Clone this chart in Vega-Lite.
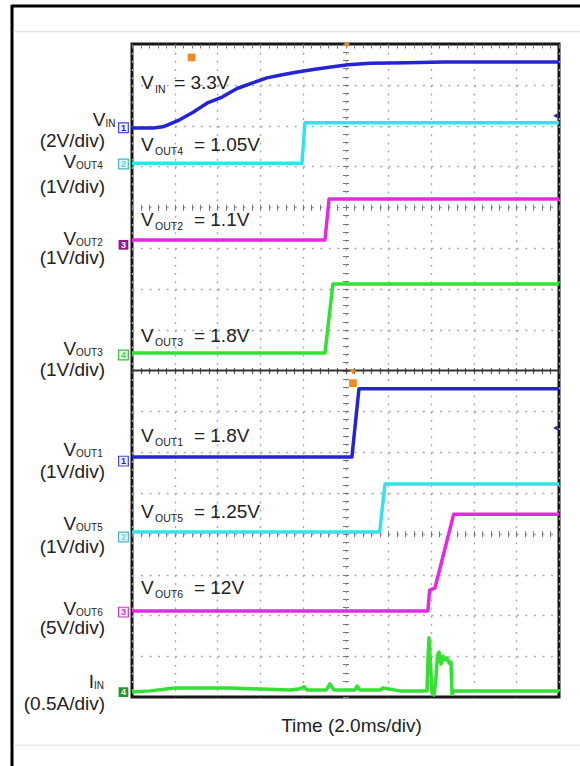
{
  "$schema": "https://vega.github.io/schema/vega-lite/v6.json",
  "width": 427,
  "height": 653,
  "autosize": "none",
  "padding": {"left": 132, "top": 44, "right": 21, "bottom": 69},
  "background": "white",
  "config": {
    "view": {"stroke": "#161616", "strokeWidth": 3},
    "font": "Liberation Sans",
    "text": {"font": "Liberation Sans"}
  },
  "datasets": {
    "traces": [
      {"tr": "VIN", "t": 0, "v": 13.94}, {"tr": "VIN", "t": 1.0, "v": 13.94}, {"tr": "VIN", "t": 1.45, "v": 13.97},
      {"tr": "VIN", "t": 2.15, "v": 14.12}, {"tr": "VIN", "t": 2.86, "v": 14.33}, {"tr": "VIN", "t": 3.51, "v": 14.55},
      {"tr": "VIN", "t": 4.22, "v": 14.7}, {"tr": "VIN", "t": 4.92, "v": 14.91}, {"tr": "VIN", "t": 5.62, "v": 15.04},
      {"tr": "VIN", "t": 6.32, "v": 15.17}, {"tr": "VIN", "t": 6.98, "v": 15.24}, {"tr": "VIN", "t": 7.68, "v": 15.31},
      {"tr": "VIN", "t": 8.57, "v": 15.38}, {"tr": "VIN", "t": 9.41, "v": 15.44}, {"tr": "VIN", "t": 10.12, "v": 15.49},
      {"tr": "VIN", "t": 11.15, "v": 15.53}, {"tr": "VIN", "t": 12.88, "v": 15.54}, {"tr": "VIN", "t": 14.61, "v": 15.56},
      {"tr": "VIN", "t": 17.0, "v": 15.56}, {"tr": "VIN", "t": 20, "v": 15.56},
      {"tr": "VOUT4", "t": 0, "v": 13.08}, {"tr": "VOUT4", "t": 7.96, "v": 13.08}, {"tr": "VOUT4", "t": 8.1, "v": 14.07}, {"tr": "VOUT4", "t": 20, "v": 14.07},
      {"tr": "VOUT2", "t": 0, "v": 11.2}, {"tr": "VOUT2", "t": 9.04, "v": 11.2}, {"tr": "VOUT2", "t": 9.23, "v": 12.2}, {"tr": "VOUT2", "t": 20, "v": 12.2},
      {"tr": "VOUT3", "t": 0, "v": 8.43}, {"tr": "VOUT3", "t": 9.04, "v": 8.43}, {"tr": "VOUT3", "t": 9.41, "v": 10.12}, {"tr": "VOUT3", "t": 20, "v": 10.12},
      {"tr": "VOUT1", "t": 0, "v": 5.88}, {"tr": "VOUT1", "t": 10.3, "v": 5.88}, {"tr": "VOUT1", "t": 10.63, "v": 7.55}, {"tr": "VOUT1", "t": 20, "v": 7.55},
      {"tr": "VOUT5", "t": 0, "v": 4.04}, {"tr": "VOUT5", "t": 11.6, "v": 4.04}, {"tr": "VOUT5", "t": 11.85, "v": 5.22}, {"tr": "VOUT5", "t": 20, "v": 5.22},
      {"tr": "VOUT6", "t": 0, "v": 2.11}, {"tr": "VOUT6", "t": 13.86, "v": 2.11}, {"tr": "VOUT6", "t": 13.94, "v": 2.62},
      {"tr": "VOUT6", "t": 14.19, "v": 2.67}, {"tr": "VOUT6", "t": 15.07, "v": 4.48}, {"tr": "VOUT6", "t": 20, "v": 4.48},
      {"tr": "IIN", "t": 0, "v": 0.12}, {"tr": "IIN", "t": 0.84, "v": 0.15}, {"tr": "IIN", "t": 2.01, "v": 0.22},
      {"tr": "IIN", "t": 4.59, "v": 0.22}, {"tr": "IIN", "t": 7.4, "v": 0.17}, {"tr": "IIN", "t": 7.87, "v": 0.2},
      {"tr": "IIN", "t": 8.06, "v": 0.25}, {"tr": "IIN", "t": 8.2, "v": 0.17}, {"tr": "IIN", "t": 9.09, "v": 0.17},
      {"tr": "IIN", "t": 9.27, "v": 0.32}, {"tr": "IIN", "t": 9.46, "v": 0.17}, {"tr": "IIN", "t": 10.44, "v": 0.17},
      {"tr": "IIN", "t": 10.54, "v": 0.27}, {"tr": "IIN", "t": 10.68, "v": 0.17}, {"tr": "IIN", "t": 11.62, "v": 0.17},
      {"tr": "IIN", "t": 11.76, "v": 0.22}, {"tr": "IIN", "t": 12.55, "v": 0.15}, {"tr": "IIN", "t": 13.82, "v": 0.15},
      {"tr": "IIN", "t": 13.86, "v": 0.91}, {"tr": "IIN", "t": 13.91, "v": 1.45}, {"tr": "IIN", "t": 13.98, "v": 0.86},
      {"tr": "IIN", "t": 14.05, "v": 0.1}, {"tr": "IIN", "t": 14.15, "v": 0.05}, {"tr": "IIN", "t": 14.24, "v": 0.47},
      {"tr": "IIN", "t": 14.31, "v": 1.03}, {"tr": "IIN", "t": 14.38, "v": 1.1}, {"tr": "IIN", "t": 14.47, "v": 0.81},
      {"tr": "IIN", "t": 14.57, "v": 1.0}, {"tr": "IIN", "t": 14.66, "v": 0.91}, {"tr": "IIN", "t": 14.75, "v": 0.96},
      {"tr": "IIN", "t": 14.85, "v": 0.83}, {"tr": "IIN", "t": 14.94, "v": 0.86}, {"tr": "IIN", "t": 14.99, "v": 0.07},
      {"tr": "IIN", "t": 15.08, "v": 0.15}, {"tr": "IIN", "t": 20, "v": 0.15}
    ],
    "inlab": [
      {"sub": "IN", "rest": "= 3.3V", "t": 0.42, "tr": 1.97, "v": 14.9},
      {"sub": "OUT4", "rest": "= 1.05V", "t": 0.42, "tr": 2.9, "v": 13.38},
      {"sub": "OUT2", "rest": "= 1.1V", "t": 0.42, "tr": 2.9, "v": 11.54},
      {"sub": "OUT3", "rest": "= 1.8V", "t": 0.42, "tr": 2.9, "v": 8.7},
      {"sub": "OUT1", "rest": "= 1.8V", "t": 0.42, "tr": 2.9, "v": 6.25},
      {"sub": "OUT5", "rest": "= 1.25V", "t": 0.42, "tr": 2.9, "v": 4.39},
      {"sub": "OUT6", "rest": "= 12V", "t": 0.42, "tr": 2.9, "v": 2.53}
    ],
    "leftlab": [
      {"main": "V", "sub": "IN", "t": -1.24, "v": 13.98},
      {"main": "V", "sub": "OUT4", "t": -2.62, "v": 12.96},
      {"main": "V", "sub": "OUT2", "t": -2.62, "v": 11.08},
      {"main": "V", "sub": "OUT3", "t": -2.62, "v": 8.38},
      {"main": "V", "sub": "OUT1", "t": -2.62, "v": 5.91},
      {"main": "V", "sub": "OUT5", "t": -2.62, "v": 4.09},
      {"main": "V", "sub": "OUT6", "t": -2.62, "v": 2.01},
      {"main": "I", "sub": "IN", "t": -1.78, "v": 0.22}
    ],
    "divlab": [
      {"text": "(2V/div)", "t": -1.26, "v": 13.47},
      {"text": "(1V/div)", "t": -1.26, "v": 12.35},
      {"text": "(1V/div)", "t": -1.26, "v": 10.61},
      {"text": "(1V/div)", "t": -1.26, "v": 7.87},
      {"text": "(1V/div)", "t": -1.26, "v": 5.37},
      {"text": "(1V/div)", "t": -1.26, "v": 3.53},
      {"text": "(5V/div)", "t": -1.26, "v": 1.54},
      {"text": "(0.5A/div)", "t": -1.26, "v": -0.31}
    ],
    "markers": [
      {"ch": "1", "sel": false, "t": -0.4, "v": 13.95},
      {"ch": "2", "sel": false, "t": -0.4, "v": 13.06},
      {"ch": "3", "sel": true, "t": -0.4, "v": 11.08},
      {"ch": "4", "sel": false, "t": -0.4, "v": 8.38},
      {"ch": "1", "sel": false, "t": -0.4, "v": 5.78},
      {"ch": "2", "sel": false, "t": -0.4, "v": 3.92},
      {"ch": "3", "sel": false, "t": -0.4, "v": 2.08},
      {"ch": "4", "sel": true, "t": -0.4, "v": 0.12}
    ]
  },
  "layer": [
    {
      "data": {"values": [{}]},
      "mark": {"type": "point", "opacity": 0},
      "encoding": {
        "x": {"datum": 0, "type": "quantitative", "scale": {"domain": [0, 20], "nice": false, "zero": false},
          "axis": {"orient": "bottom", "values": [0, 2, 4, 6, 8, 10, 12, 14, 16, 18, 20], "grid": true, "gridDash": [2, 6.16], "gridColor": "#a8a8a8", "gridWidth": 1.4,
            "labels": false, "ticks": false, "domain": false, "title": "Time (2.0ms/div)", "titleFont": "Liberation Sans", "titleFontSize": 19,
            "titleFontWeight": "normal", "titleColor": "#222", "titleBaseline": "alphabetic", "titleY": 34, "titleX": 219}},
        "y": {"datum": 0, "type": "quantitative", "scale": {"domain": [0, 16], "nice": false, "zero": false},
          "axis": {"orient": "left", "values": [1, 2, 3, 4, 5, 6, 7, 9, 10, 11, 12, 13, 14, 15], "grid": true, "gridDash": [2, 6.54], "gridColor": "#a8a8a8", "gridWidth": 1.4,
            "labels": false, "ticks": false, "domain": false, "title": null}}
      }
    },
    {
      "data": {"values": [{}]},
      "mark": {"type": "point", "opacity": 0},
      "encoding": {
        "x": {"datum": 0, "type": "quantitative", "scale": {"domain": [0, 20], "nice": false, "zero": false},
          "axis": {"orient": "bottom", "offset": -492.75, "values": [0,0.4,0.8,1.2,1.6,2,2.4,2.8,3.2,3.6,4,4.4,4.8,5.2,5.6,6,6.4,6.8,7.2,7.6,8,8.4,8.8,9.2,9.6,10,10.4,10.8,11.2,11.6,12,12.4,12.8,13.2,13.6,14,14.4,14.8,15.2,15.6,16,16.4,16.8,17.2,17.6,18,18.4,18.8,19.2,19.6,20],
            "tickSize": 6, "tickColor": "#777", "tickWidth": 1, "labels": false, "domain": false, "grid": false, "title": null}},
        "y": {"datum": 0, "type": "quantitative", "scale": {"domain": [0, 16], "nice": false, "zero": false},
          "axis": {"orient": "left", "offset": -216.5, "tickCount": 80, "tickSize": 6, "tickColor": "#777", "tickWidth": 1, "labels": false, "domain": false, "grid": false, "title": null}}
      }
    },
    {
      "data": {"values": [{}]},
      "mark": {"type": "point", "opacity": 0},
      "encoding": {
        "x": {"datum": 0, "type": "quantitative", "scale": {"domain": [0, 20], "nice": false, "zero": false},
          "axis": {"orient": "bottom", "offset": -166.25, "values": [0,0.4,0.8,1.2,1.6,2,2.4,2.8,3.2,3.6,4,4.4,4.8,5.2,5.6,6,6.4,6.8,7.2,7.6,8,8.4,8.8,9.2,9.6,10,10.4,10.8,11.2,11.6,12,12.4,12.8,13.2,13.6,14,14.4,14.8,15.2,15.6,16,16.4,16.8,17.2,17.6,18,18.4,18.8,19.2,19.6,20],
            "tickSize": 6, "tickColor": "#777", "tickWidth": 1, "labels": false, "domain": false, "grid": false, "title": null}},
        "y": {"datum": 0, "type": "quantitative", "scale": {"domain": [0, 16], "nice": false, "zero": false}, "axis": null}
      }
    },
    {
      "data": {"values": [{}]},
      "mark": {"type": "point", "opacity": 0},
      "encoding": {
        "x": {"datum": 0, "type": "quantitative", "scale": {"domain": [0, 20], "nice": false, "zero": false},
          "axis": {"orient": "bottom", "offset": -329.5, "values": [0,0.4,0.8,1.2,1.6,2,2.4,2.8,3.2,3.6,4,4.4,4.8,5.2,5.6,6,6.4,6.8,7.2,7.6,8,8.4,8.8,9.2,9.6,10,10.4,10.8,11.2,11.6,12,12.4,12.8,13.2,13.6,14,14.4,14.8,15.2,15.6,16,16.4,16.8,17.2,17.6,18,18.4,18.8,19.2,19.6,20],
            "tickSize": 6, "tickColor": "#555", "tickWidth": 1.2, "labels": false, "domain": false, "grid": false, "title": null}},
        "y": {"datum": 0, "type": "quantitative", "scale": {"domain": [0, 16], "nice": false, "zero": false}, "axis": null}
      }
    },
    {
      "data": {"values": [{}]},
      "mark": {"type": "point", "opacity": 0},
      "encoding": {
        "x": {"datum": 0, "type": "quantitative", "scale": {"domain": [0, 20], "nice": false, "zero": false},
          "axis": {"orient": "bottom", "offset": -653, "values": [0,0.4,0.8,1.2,1.6,2,2.4,2.8,3.2,3.6,4,4.4,4.8,5.2,5.6,6,6.4,6.8,7.2,7.6,8,8.4,8.8,9.2,9.6,10,10.4,10.8,11.2,11.6,12,12.4,12.8,13.2,13.6,14,14.4,14.8,15.2,15.6,16,16.4,16.8,17.2,17.6,18,18.4,18.8,19.2,19.6,20],
            "tickSize": 4, "tickColor": "#777", "tickWidth": 1, "labels": false, "domain": false, "grid": false, "title": null}},
        "y": {"datum": 0, "type": "quantitative", "scale": {"domain": [0, 16], "nice": false, "zero": false}, "axis": null}
      }
    },
    {
      "data": {"values": [{}]},
      "mark": {"type": "rule", "color": "#333", "strokeWidth": 2},
      "encoding": {
        "x": {"datum": 0, "type": "quantitative", "scale": {"domain": [0, 20], "nice": false, "zero": false}, "axis": null},
        "x2": {"datum": 20},
        "y": {"datum": 8, "type": "quantitative", "scale": {"domain": [0, 16], "nice": false, "zero": false}, "axis": null}
      }
    },
    {
      "data": {"name": "traces"},
      "mark": {"type": "line", "strokeWidth": 3.5, "strokeJoin": "round"},
      "encoding": {
        "x": {"field": "t", "type": "quantitative", "scale": {"domain": [0, 20], "nice": false, "zero": false}, "axis": null},
        "y": {"field": "v", "type": "quantitative", "scale": {"domain": [0, 16], "nice": false, "zero": false}, "axis": null},
        "color": {"field": "tr", "type": "nominal", "legend": null,
          "scale": {"domain": ["VIN", "VOUT4", "VOUT2", "VOUT3", "VOUT1", "VOUT5", "VOUT6", "IIN"],
            "range": ["#2424d4", "#36e2ea", "#e22ae2", "#35e035", "#2424d4", "#36e2ea", "#e22ae2", "#35e035"]}}
      }
    },
    {
      "data": {"name": "inlab"},
      "mark": {"type": "text", "text": "V", "align": "left", "baseline": "alphabetic", "fontSize": 19, "color": "#222"},
      "encoding": {
        "x": {"field": "t", "type": "quantitative", "axis": null},
        "y": {"field": "v", "type": "quantitative", "axis": null}
      }
    },
    {
      "data": {"name": "inlab"},
      "mark": {"type": "text", "align": "left", "baseline": "alphabetic", "fontSize": 10.5, "dx": 14, "dy": 4, "color": "#222"},
      "encoding": {
        "x": {"field": "t", "type": "quantitative", "axis": null},
        "y": {"field": "v", "type": "quantitative", "axis": null},
        "text": {"field": "sub"}
      }
    },
    {
      "data": {"name": "inlab"},
      "mark": {"type": "text", "align": "left", "baseline": "alphabetic", "fontSize": 19, "color": "#222"},
      "encoding": {
        "x": {"field": "tr", "type": "quantitative", "axis": null},
        "y": {"field": "v", "type": "quantitative", "axis": null},
        "text": {"field": "rest"}
      }
    },
    {
      "data": {"name": "leftlab"},
      "mark": {"type": "text", "align": "right", "baseline": "alphabetic", "fontSize": 19, "color": "#222"},
      "encoding": {
        "x": {"field": "t", "type": "quantitative", "axis": null},
        "y": {"field": "v", "type": "quantitative", "axis": null},
        "text": {"field": "main"}
      }
    },
    {
      "data": {"name": "leftlab"},
      "mark": {"type": "text", "align": "left", "baseline": "alphabetic", "fontSize": 10, "dx": 0, "dy": 1, "color": "#222"},
      "encoding": {
        "x": {"field": "t", "type": "quantitative", "axis": null},
        "y": {"field": "v", "type": "quantitative", "axis": null},
        "text": {"field": "sub"}
      }
    },
    {
      "data": {"name": "divlab"},
      "mark": {"type": "text", "align": "right", "baseline": "alphabetic", "fontSize": 19, "color": "#222"},
      "encoding": {
        "x": {"field": "t", "type": "quantitative", "axis": null},
        "y": {"field": "v", "type": "quantitative", "axis": null},
        "text": {"field": "text"}
      }
    },
    {
      "data": {"name": "markers"},
      "transform": [{"filter": "!datum.sel"}],
      "mark": {"type": "point", "shape": "square", "size": 95, "filled": true, "fill": "#f2f2f6", "strokeWidth": 1.2, "opacity": 1},
      "encoding": {
        "x": {"field": "t", "type": "quantitative", "axis": null},
        "y": {"field": "v", "type": "quantitative", "axis": null},
        "stroke": {"field": "ch", "type": "nominal", "legend": null,
          "scale": {"domain": ["1", "2", "3", "4"], "range": ["#4a4acc", "#48b8c0", "#c040c0", "#40b840"]}}
      }
    },
    {
      "data": {"name": "markers"},
      "transform": [{"filter": "datum.sel"}],
      "mark": {"type": "point", "shape": "square", "size": 95, "filled": true, "opacity": 1},
      "encoding": {
        "x": {"field": "t", "type": "quantitative", "axis": null},
        "y": {"field": "v", "type": "quantitative", "axis": null},
        "fill": {"field": "ch", "type": "nominal", "legend": null,
          "scale": {"domain": ["1", "2", "3", "4"], "range": ["#2a2aa0", "#2a9aa0", "#901890", "#2a962a"]}}
      }
    },
    {
      "data": {"name": "markers"},
      "mark": {"type": "text", "fontSize": 9, "fontWeight": "bold", "baseline": "middle", "align": "center"},
      "encoding": {
        "x": {"field": "t", "type": "quantitative", "axis": null},
        "y": {"field": "v", "type": "quantitative", "axis": null},
        "text": {"field": "ch"},
        "color": {"condition": {"test": "datum.sel", "value": "#ffffff"}, "field": "ch", "type": "nominal", "legend": null,
          "scale": {"domain": ["1", "2", "3", "4"], "range": ["#3a3ac0", "#3aa8b0", "#b030b0", "#30a830"]}}
      }
    },
    {
      "data": {"values": [{"t": 10.07, "v": 15.97}, {"t": 10.35, "v": 7.96}]},
      "mark": {"type": "point", "shape": "triangle-down", "size": 40, "filled": true, "color": "#f08a24", "opacity": 1},
      "encoding": {
        "x": {"field": "t", "type": "quantitative", "axis": null},
        "y": {"field": "v", "type": "quantitative", "axis": null}
      }
    },
    {
      "data": {"values": [{"t": 2.79, "v": 15.67}, {"t": 10.35, "v": 7.69}]},
      "mark": {"type": "point", "shape": "square", "size": 60, "filled": true, "color": "#f08a24", "opacity": 1},
      "encoding": {
        "x": {"field": "t", "type": "quantitative", "axis": null},
        "y": {"field": "v", "type": "quantitative", "axis": null}
      }
    },
    {
      "data": {"values": [{"t": 19.83, "v": 14.24}, {"t": 19.83, "v": 6.59}]},
      "mark": {"type": "point", "shape": "triangle-left", "size": 25, "filled": true, "color": "#2424a0", "opacity": 1},
      "encoding": {
        "x": {"field": "t", "type": "quantitative", "axis": null},
        "y": {"field": "v", "type": "quantitative", "axis": null}
      }
    },
    {
      "data": {"values": [{}]},
      "mark": {"type": "rule", "color": "#000", "strokeWidth": 3},
      "encoding": {
        "x": {"datum": -5.62, "type": "quantitative", "axis": null},
        "x2": {"datum": 21.2},
        "y": {"datum": 16.93, "type": "quantitative", "axis": null}
      }
    },
    {
      "data": {"values": [{}]},
      "mark": {"type": "rule", "color": "#000", "strokeWidth": 3},
      "encoding": {
        "x": {"datum": -5.62, "type": "quantitative", "axis": null},
        "y": {"datum": 16.96, "type": "quantitative", "axis": null},
        "y2": {"datum": -1.75}
      }
    },
    {
      "data": {"values": [{}]},
      "mark": {"type": "rule", "color": "#dddddd", "strokeWidth": 1},
      "encoding": {
        "x": {"datum": -5.55, "type": "quantitative", "axis": null},
        "x2": {"datum": 21.2},
        "y": {"datum": 16.3, "type": "quantitative", "axis": null}
      }
    },
    {
      "data": {"values": [{}]},
      "mark": {"type": "rule", "color": "#dddddd", "strokeWidth": 1},
      "encoding": {
        "x": {"datum": -5.55, "type": "quantitative", "axis": null},
        "x2": {"datum": 21.2},
        "y": {"datum": -1.18, "type": "quantitative", "axis": null}
      }
    }
  ],
  "resolve": {"axis": {"x": "independent", "y": "independent"}}
}
